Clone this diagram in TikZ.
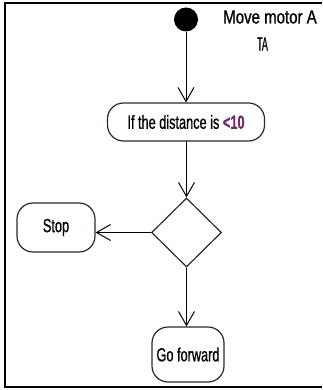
\documentclass[tikz,border=0pt]{standalone}
\usepackage{fontspec}
\usetikzlibrary{shapes.geometric,arrows.meta}
\newfontfamily\umlfont{Liberation Sans}[FakeStretch=0.67,FakeBold=0.8]
\definecolor{umlborder}{RGB}{55,35,55}
\definecolor{umlpurple}{RGB}{110,40,110}
\begin{document}
\begin{tikzpicture}[x=1pt,y=-1pt,
  every node/.style={font=\umlfont\fontsize{19}{21}\selectfont},
  act/.style={draw=umlborder,line width=1.2pt,rounded corners=16pt,fill=white,inner sep=0pt},
  flow/.style={draw=black,line width=1pt,-{Straight Barb[length=14pt,width=16pt,line width=1pt]}},
  frameline/.style={draw=black,line width=2pt}]
\useasboundingbox (0,0) rectangle (322,390);
% frame (top, left, bottom)
\draw[frameline] (322,3) -- (5,3) -- (5,387) -- (322,387);
% start
\node[circle,fill=black,minimum size=24pt,inner sep=0pt] (start) at (186,19.5) {};
\node (lab1) at (270,17) {\scalebox{1.18}[1]{Move motor A}};
\node (lab2) at (262.5,44) {\scalebox{0.7}[1]{TA}};
% activities
\node[act,minimum width=157pt,minimum height=38pt] (dist) at (186,122)
  {If the distance is {\bfseries\color{umlpurple}<10}};
\node[diamond,draw=umlborder,line width=1.2pt,minimum width=70pt,minimum height=69pt,inner sep=0pt] (dec) at (186.5,232.5) {};
\node[act,minimum width=78pt,minimum height=49pt] (stop) at (56,227.5) {Stop};
\node[act,minimum width=72pt,minimum height=55pt] (go) at (188,354.5) {Go forward};
% connectors
\draw[flow] (start.south) -- (start.south |- dist.north);
\draw[flow] (dist.south) -- (dist.south -| dec.north) -- (dec.north);
\draw[flow] (dec.west) -- (dec.west -| stop.east);
\draw[flow] (dec.south) -- (dec.south |- go.north);
\end{tikzpicture}
\end{document}
